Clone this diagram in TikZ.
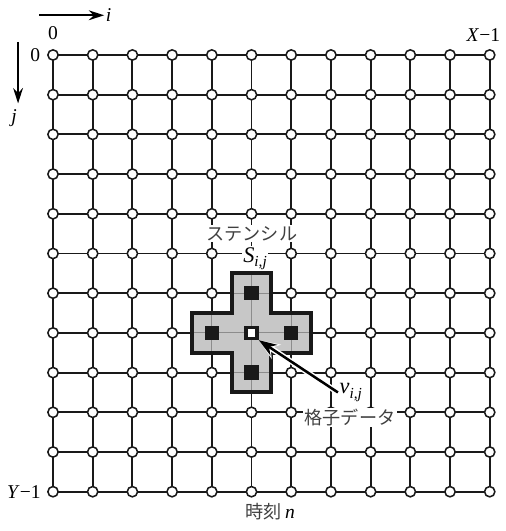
\documentclass[tikz,border=0pt]{standalone}
\usepackage{fontspec}
\setmainfont{Liberation Serif}
\newfontfamily\jpfont{Noto Sans CJK JP}
\usetikzlibrary{arrows.meta, positioning}
\newcommand{\idx}[2]{\textit{#1}\raisebox{-0.45ex}{\fontsize{11}{11}\selectfont\textit{#2}}}

\begin{document}
\begin{tikzpicture}[
  gridline/.style={line width=1.4pt, draw=black!90},
  gpoint/.style={circle, draw=black!90, fill=white, line width=1.1pt, inner sep=0pt, minimum size=0.26cm},
  stencilfill/.style={fill=black!22},
  stencilline/.style={draw=black!90, line width=2.8pt, line join=miter},
  cellline/.style={draw=black!45, line width=0.6pt},
  nbr/.style={fill=black!90, inner sep=0pt, minimum size=0.36cm},
  ctr/.style={fill=white, draw=black!90, line width=2.4pt, inner sep=0pt, minimum size=0.28cm},
  lbl/.style={font=\fontsize{14}{16}\selectfont, inner sep=1pt},
  biglbl/.style={font=\fontsize{16}{18}\selectfont, inner sep=1pt, fill=white},
  jplbl/.style={font=\jpfont\fontsize{13}{15}\selectfont, text=black!75, fill=white, inner sep=1pt},
  axis/.style={line width=1.4pt, -{Stealth[length=11pt, width=7pt]}},
  pointer/.style={line width=1.8pt, -{Stealth[length=13pt, width=9pt]},
    preaction={draw=white, line width=4pt, -{Stealth[length=15pt, width=12pt]}}}
]
\useasboundingbox (-1.335, 1.385) rectangle (11.385, -11.99);

% grid
\foreach \k in {0,...,11} {
  \draw[gridline] (\k, 0) -- (\k, -11);
  \draw[gridline] (0, -\k) -- (11, -\k);
}
\foreach \i in {0,...,11}
  \foreach \j in {0,...,11}
    \node[gpoint] (p-\i-\j) at (\i, -\j) {};

% stencil
\fill[stencilfill] (4.5,-5.5) -- (5.5,-5.5) -- (5.5,-6.5) -- (6.5,-6.5) -- (6.5,-7.5) -- (5.5,-7.5)
  -- (5.5,-8.5) -- (4.5,-8.5) -- (4.5,-7.5) -- (3.5,-7.5) -- (3.5,-6.5) -- (4.5,-6.5) -- cycle;
\draw[cellline] (5,-5.5) -- (5,-8.5) (3.5,-7) -- (6.5,-7) (4,-6.5) -- (4,-7.5) (6,-6.5) -- (6,-7.5)
  (4.5,-6) -- (5.5,-6) (4.5,-8) -- (5.5,-8);
\draw[stencilline] (4.5,-5.5) -- (5.5,-5.5) -- (5.5,-6.5) -- (6.5,-6.5) -- (6.5,-7.5) -- (5.5,-7.5)
  -- (5.5,-8.5) -- (4.5,-8.5) -- (4.5,-7.5) -- (3.5,-7.5) -- (3.5,-6.5) -- (4.5,-6.5) -- cycle;
\node[nbr] (s-n) at (5,-6) {};
\node[nbr] (s-w) at (4,-7) {};
\node[nbr] (s-e) at (6,-7) {};
\node[nbr] (s-s) at (5,-8) {};
\node[ctr] (s-c) at (5,-7) {};

% labels
\node[jplbl] (stlab) at (5.01,-4.5) {ステンシル};
\node[biglbl] (slab) at (5.09,-5.13) {\idx{S}{i,j}};
\node[biglbl] (vlab) at (7.5,-8.5) {\idx{v}{i,j}};
\node[jplbl] (gdlab) at (7.48,-9.13) {格子データ};
\draw[pointer] (vlab.west) -- (s-c.south east);

\node[lbl] (ilab) at (1.4,1.0) {\textit{i}};
\coordinate (istart) at (-0.35,1.0);
\draw[axis] (istart) -- (ilab.west);
\node[lbl] (jlab) at (-0.98,-1.58) {\textit{j}};
\coordinate (jstart) at (-0.88,0.33);
\coordinate (jend) at (-0.88,-1.22);
\draw[axis] (jstart) -- (jend);

\node[lbl] (x0) at (0,0.55) {0};
\node[lbl] (y0) at (-0.45,0) {0};
\node[lbl] (xmax) at (10.84,0.5) {\textit{X}−1};
\node[lbl, anchor=east] (ymax) at (-0.27,-11) {\textit{Y}−1};
\node[lbl] (tlab) at (5.47,-11.5) {{\jpfont\fontsize{13}{15}\selectfont\color{black!75}時刻}\,\textit{n}};
\end{tikzpicture}
\end{document}
